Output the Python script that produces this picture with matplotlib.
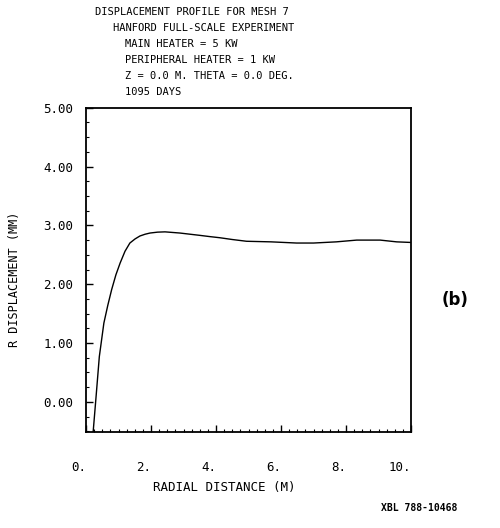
import matplotlib
matplotlib.use("Agg")
import matplotlib.pyplot as plt
from matplotlib.ticker import MultipleLocator

# radial distance (m) and R displacement (mm)
radius = [0.22, 0.31, 0.41, 0.55, 0.67, 0.79, 0.92, 1.05, 1.20, 1.35, 1.51,
          1.66, 1.82, 1.97, 2.20, 2.43, 2.66, 2.89, 3.20, 3.51, 3.80, 4.12,
          4.50, 4.94, 5.70, 6.48, 7.00, 7.70, 8.33, 9.05, 9.56, 10.0]
r_disp = [-0.51, 0.09, 0.77, 1.34, 1.64, 1.91, 2.16, 2.36, 2.56, 2.70, 2.77,
          2.82, 2.85, 2.87, 2.885, 2.89, 2.88, 2.87, 2.85, 2.83, 2.81, 2.79,
          2.76, 2.73, 2.72, 2.70, 2.70, 2.72, 2.75, 2.75, 2.72, 2.71]

x_ticks = [0, 2, 4, 6, 8, 10]
x_labels = ["0.", "2.", "4.", "6.", "8.", "10."]
y_ticks = [0, 1, 2, 3, 4, 5]
y_labels = ["0.00", "1.00", "2.00", "3.00", "4.00", "5.00"]

title_lines = [
    "DISPLACEMENT PROFILE FOR MESH 7",
    "HANFORD FULL-SCALE EXPERIMENT",
    "MAIN HEATER = 5 KW",
    "PERIPHERAL HEATER = 1 KW",
    "Z = 0.0 M. THETA = 0.0 DEG.",
    "1095 DAYS",
]
title_x = [95, 113, 125, 125, 125, 125]

mono = "DejaVu Sans Mono"

fig = plt.figure(figsize=(5, 5.28), dpi=100)
ax = fig.add_axes([0.172, 0.182, 0.65, 0.614])
ax.plot(radius, r_disp, color="black", lw=1.0)
ax.set_xlim(0, 10)
ax.set_ylim(-0.51, 5.0)

ax.set_xticks(x_ticks)
ax.set_xticklabels(x_labels, fontsize=9, family=mono, ha="right")
ax.set_yticks(y_ticks)
ax.set_yticklabels(y_labels, fontsize=9, family=mono)
ax.xaxis.set_minor_locator(MultipleLocator(0.25))
ax.yaxis.set_minor_locator(MultipleLocator(0.25))
ax.tick_params(which="major", direction="in", length=5, width=1.0, pad=21, axis="x")
ax.tick_params(which="major", direction="in", length=5, width=1.0, pad=9, axis="y")
ax.tick_params(which="minor", direction="in", length=2.5, width=0.8)
for s in ax.spines.values():
    s.set_linewidth(1.3)

ax.set_xlabel("RADIAL DISTANCE (M)", fontsize=9, family=mono)
ax.xaxis.set_label_coords(0.425, -0.15)
ax.set_ylabel("R DISPLACEMENT (MM)", fontsize=8.5, family=mono)
ax.yaxis.set_label_coords(-0.20, 0.47)

for i, line in enumerate(title_lines):
    fig.text(title_x[i] / 500, 1 - (12 + i * 16) / 528, line, fontsize=7.5,
             family=mono, ha="left", va="center")

fig.text(455 / 500, 1 - 300 / 528, "(b)", fontsize=12, fontweight="bold",
         ha="center", va="center")
fig.text(419 / 500, 1 - 508 / 528, "XBL 788-10468", fontsize=7,
         family=mono, fontweight="bold", ha="center", va="center")

fig.savefig("out.png", dpi=100)
